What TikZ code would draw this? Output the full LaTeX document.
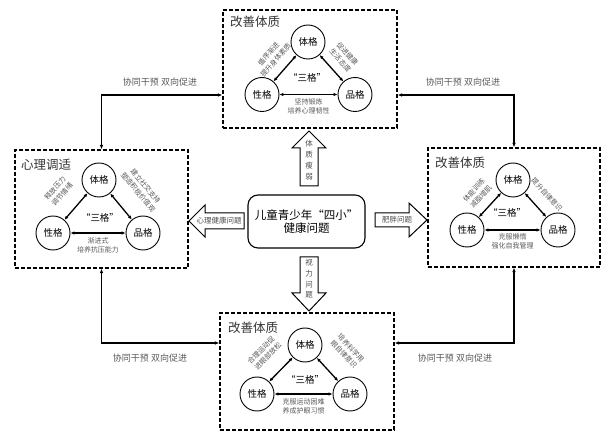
\documentclass[tikz,border=0pt]{standalone}
\usepackage{fontspec}
\setmainfont{Noto Sans CJK SC}
\usetikzlibrary{arrows.meta}
\begin{document}
\begin{tikzpicture}[x=1pt,y=-1pt,
 circ/.style={circle,draw,line width=0.9pt,minimum size=34pt,inner sep=0pt,font=\fontsize{9.5}{10}\selectfont},
 dbox/.style={draw,rectangle,inner sep=0pt,dash pattern=on 4pt off 2pt,line width=1.1pt},
 ttl/.style={font=\fontsize{12.5}{13}\selectfont,text=black!80},
 san/.style={font=\fontsize{9.5}{10}\selectfont},
 small/.style={font=\fontsize{7}{9.5}\selectfont,text=black!65,align=center,inner sep=1.5pt},
 tri/.style={{Latex[length=4pt,width=3.5pt]}-{Latex[length=4pt,width=3.5pt]},line width=1.3pt},
 conn/.style={{Latex[length=4.5pt,width=3.5pt]}-{Latex[length=4.5pt,width=3.5pt]},line width=1.1pt},
 note/.style={font=\fontsize{9}{10}\selectfont,text=black!65},
 barrow/.style={draw,line width=1pt,fill=white,line join=miter},
 vlab/.style={font=\fontsize{7.5}{11}\selectfont,text=black!70,align=center,inner sep=0pt}
]
\useasboundingbox (0,0) rectangle (606,433);

% dashed boxes
\node[dbox,minimum width=174pt,minimum height=118pt] (top) at (310,69) {};
\node[dbox,minimum width=173pt,minimum height=118pt] (left) at (101.5,209) {};
\node[dbox,minimum width=172pt,minimum height=119pt] (right) at (514,207.5) {};
\node[dbox,minimum width=174pt,minimum height=117pt] (bot) at (307,371.5) {};

% center
\node[draw,rounded corners=10pt,line width=1.1pt,minimum width=117pt,minimum height=53pt,align=center,font=\fontsize{11.5}{13}\selectfont] (c) at (306.5,221.5) {儿童青少年“四小”\\健康问题};

% block arrows
\draw[barrow] (300,186) -- (300,148) -- (292,148) -- (309,131) -- (326,148) -- (318,148) -- (318,186) -- cycle;
\node[vlab] (au) at (309,160) {体\\质\\瘦\\弱};
\draw[barrow] (300,257) -- (318,257) -- (318,293) -- (326,293) -- (309,311) -- (292,293) -- (300,293) -- cycle;
\node[vlab,font=\fontsize{7.5}{10.7}\selectfont] (ad) at (309,279) {视\\力\\问\\题};
\draw[barrow] (244,213) -- (205,213) -- (205,205) -- (189,221) -- (205,237) -- (205,229) -- (244,229) -- cycle;
\node[vlab] (al) at (219,221) {心理健康问题};
\draw[barrow] (375,213) -- (409,213) -- (409,203) -- (427,220) -- (409,237) -- (409,227) -- (375,227) -- cycle;
\node[vlab] (ar) at (397,220) {肥胖问题};

% connectors
\coordinate (ya) at (0,95);
\coordinate (yb) at (0,343);
\draw[conn] (top.west |- ya) -| (left.north);
\draw[conn] (top.east |- ya) -| (right.north);
\draw[conn] (left.south) |- (bot.west |- yb);
\draw[conn] (right.south) |- (bot.east |- yb);
\node[note] (n1) at (160,82) {协同干预\ 双向促进};
\node[note] (n2) at (463,82) {协同干预\ 双向促进};
\node[note] (n3) at (150,358) {协同干预\ 双向促进};
\node[note] (n4) at (455,358) {协同干预\ 双向促进};

% top box
\node[ttl] (tt) at (255,22) {改善体质};
\node[circ] (t1) at (308,42) {体格};
\node[circ] (t2) at (262,94.5) {性格};
\node[circ] (t3) at (355,94.5) {品格};
\node[san] (t0) at (307,78) {“三格”};
\draw[tri] (t2) -- node[small,sloped,above=7pt] {循序渐进\\提升身体素质} (t1);
\draw[tri] (t1) -- node[small,sloped,above=6.5pt] {促进健康\\生活态度} (t3);
\draw[tri] (t2) -- node[small,below=1.5pt] {坚持锻炼\\培养心理韧性} (t3);

% left box
\node[ttl] (lt) at (46,165) {心理调适};
\node[circ] (l1) at (99,180) {体格};
\node[circ] (l2) at (53,233) {性格};
\node[circ] (l3) at (143,233) {品格};
\node[san] (l0) at (100,218) {“三格”};
\draw[tri] (l2) -- node[small,sloped,above=13pt] {释放压力\\调节情绪} (l1);
\draw[tri] (l1) -- node[small,sloped,above=17pt] {建立社交支持\\塑造积极价值观} (l3);
\draw[tri] (l2) -- node[small,below=2pt] {渐进式\\培养抗压能力} (l3);

% right box
\node[ttl] (rt) at (460,163) {改善体质};
\node[circ] (r1) at (513,180) {体格};
\node[circ] (r2) at (467,230) {性格};
\node[circ] (r3) at (558,230) {品格};
\node[san] (r0) at (507,213) {“三格”};
\draw[tri] (r2) -- node[small,sloped,above=7pt] {体能训练\\减脂增肌} (r1);
\draw[tri] (r1) -- node[small,sloped,above=10pt] {提升自律意识} (r3);
\draw[tri] (r2) -- node[small,below=1pt] {克服懒惰\\强化自我管理} (r3);

% bottom box
\node[ttl] (bt) at (253,328) {改善体质};
\node[circ] (b1) at (305,345) {体格};
\node[circ] (b2) at (257,394) {性格};
\node[circ] (b3) at (350,394) {品格};
\node[san] (b0) at (305,380) {“三格”};
\draw[tri] (b2) -- node[small,sloped,above=13pt] {合理运动促\\进眼部放松} (b1);
\draw[tri] (b1) -- node[small,sloped,above=17pt] {培养科学用\\眼自律意识} (b3);
\draw[tri] (b2) -- node[small,below=2pt] {克服运动困难\\养成护眼习惯} (b3);
\end{tikzpicture}
\end{document}
